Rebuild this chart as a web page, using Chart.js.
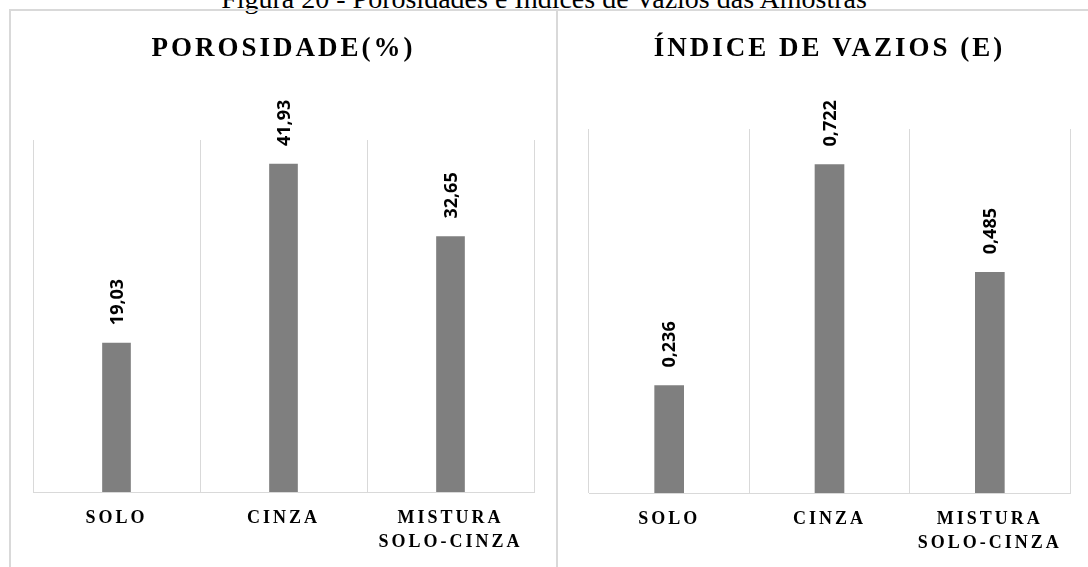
<!DOCTYPE html>
<html lang="pt">

<head>
    <meta charset="UTF-8">
    <title>Porosidades e Índices de Vazios</title>
    <script src="https://cdn.jsdelivr.net/npm/chart.js@4.4.0/dist/chart.umd.min.js"></script>
    <style>
        body {
            margin: 0;
            background-color: #fff;
            overflow: hidden;
            width: 1088px;
            height: 567px;
            position: relative;
        }

        .caption {
            position: absolute;
            left: 0;
            width: 1088px;
            top: -15px;
            line-height: 28px;
            text-align: center;
            font-family: "Liberation Serif", serif;
            font-size: 28px;
            color: #000;
        }

        .frame {
            position: absolute;
            left: 9px;
            top: 9px;
            width: 1100px;
            height: 600px;
            border-top: 2px solid #d9d9d9;
            border-left: 2px solid #d9d9d9;
        }

        .divider {
            position: absolute;
            left: 556px;
            top: 9px;
            width: 2px;
            height: 600px;
            background-color: #d9d9d9;
        }

        .panel {
            position: absolute;
            top: 11px;
            height: 556px;
        }
    </style>
</head>

<body>
    <div class="caption">Figura 20 - Porosidades e Índices de Vazios das Amostras</div>
    <div class="frame"></div>
    <div class="divider"></div>

    <div class="panel" style="left: 11px; width: 545px;">
        <canvas id="porosChart"></canvas>
    </div>
    <div class="panel" style="left: 558px; width: 540px;">
        <canvas id="vaziosChart"></canvas>
    </div>

    <script>
        // data
        const categories = ['SOLO', 'CINZA', ['MISTURA', 'SOLO-CINZA']];
        const porosidade = [19.03, 41.93, 32.65];
        const indiceVazios = [0.236, 0.722, 0.485];

        const barColor = '#7f7f7f';
        const gridColor = '#d9d9d9';

        // spaced capitals for titles and category labels
        const spacingPlugin = {
            id: 'spacing',
            beforeDraw(chart) {
                chart.ctx.letterSpacing = '3px';
            }
        };

        // rotated value labels above the bars
        const valueLabels = {
            id: 'valueLabels',
            afterDatasetsDraw(chart) {
                const ctx = chart.ctx;
                const values = chart.data.datasets[0].data;
                chart.getDatasetMeta(0).data.forEach(function (bar, i) {
                    ctx.save();
                    ctx.letterSpacing = '0px';
                    ctx.font = 'bold 18px "Open Sans", sans-serif';
                    ctx.fillStyle = '#000';
                    ctx.textAlign = 'left';
                    ctx.textBaseline = 'middle';
                    ctx.translate(bar.x + 1, bar.y - 18);
                    ctx.rotate(-Math.PI / 2);
                    ctx.fillText(String(values[i]).replace('.', ','), 0, 0);
                    ctx.restore();
                });
            }
        };

        function makeChart(id, title, values, yMax, pad, titlePad, xHeight, barWidth) {
            return new Chart(document.getElementById(id), {
                type: 'bar',
                data: {
                    labels: categories,
                    datasets: [{
                        data: values,
                        backgroundColor: barColor,
                        barThickness: barWidth
                    }]
                },
                options: {
                    responsive: true,
                    maintainAspectRatio: false,
                    animation: false,
                    layout: {
                        padding: pad
                    },
                    plugins: {
                        legend: { display: false },
                        tooltip: { enabled: false },
                        title: {
                            display: true,
                            text: title,
                            color: '#000',
                            font: { family: '"Liberation Serif", serif', size: 27, weight: 'bold', lineHeight: 1.2 },
                            padding: titlePad
                        }
                    },
                    scales: {
                        x: {
                            grid: {
                                color: gridColor,
                                lineWidth: 1,
                                drawTicks: false
                            },
                            border: { color: gridColor, width: 1 },
                            ticks: {
                                color: '#000',
                                padding: 15,
                                maxRotation: 0,
                                font: { family: '"Liberation Serif", serif', size: 18, weight: 'bold', lineHeight: 1.3 }
                            },
                            afterFit(scale) {
                                scale.height = xHeight;
                            }
                        },
                        y: {
                            display: false,
                            min: 0,
                            max: yMax
                        }
                    }
                },
                plugins: [spacingPlugin, valueLabels]
            });
        }

        makeChart('porosChart', 'POROSIDADE(%)', porosidade, 45,
            { left: 22, right: 22, top: 0, bottom: 0 }, { top: 22, bottom: 74.6 }, 75, 28);

        makeChart('vaziosChart', 'ÍNDICE DE VAZIOS (E)', indiceVazios, 0.8,
            { left: 31, right: 28, top: 0, bottom: 0 }, { top: 22, bottom: 63.6 }, 74, 29);
    </script>
</body>

</html>
